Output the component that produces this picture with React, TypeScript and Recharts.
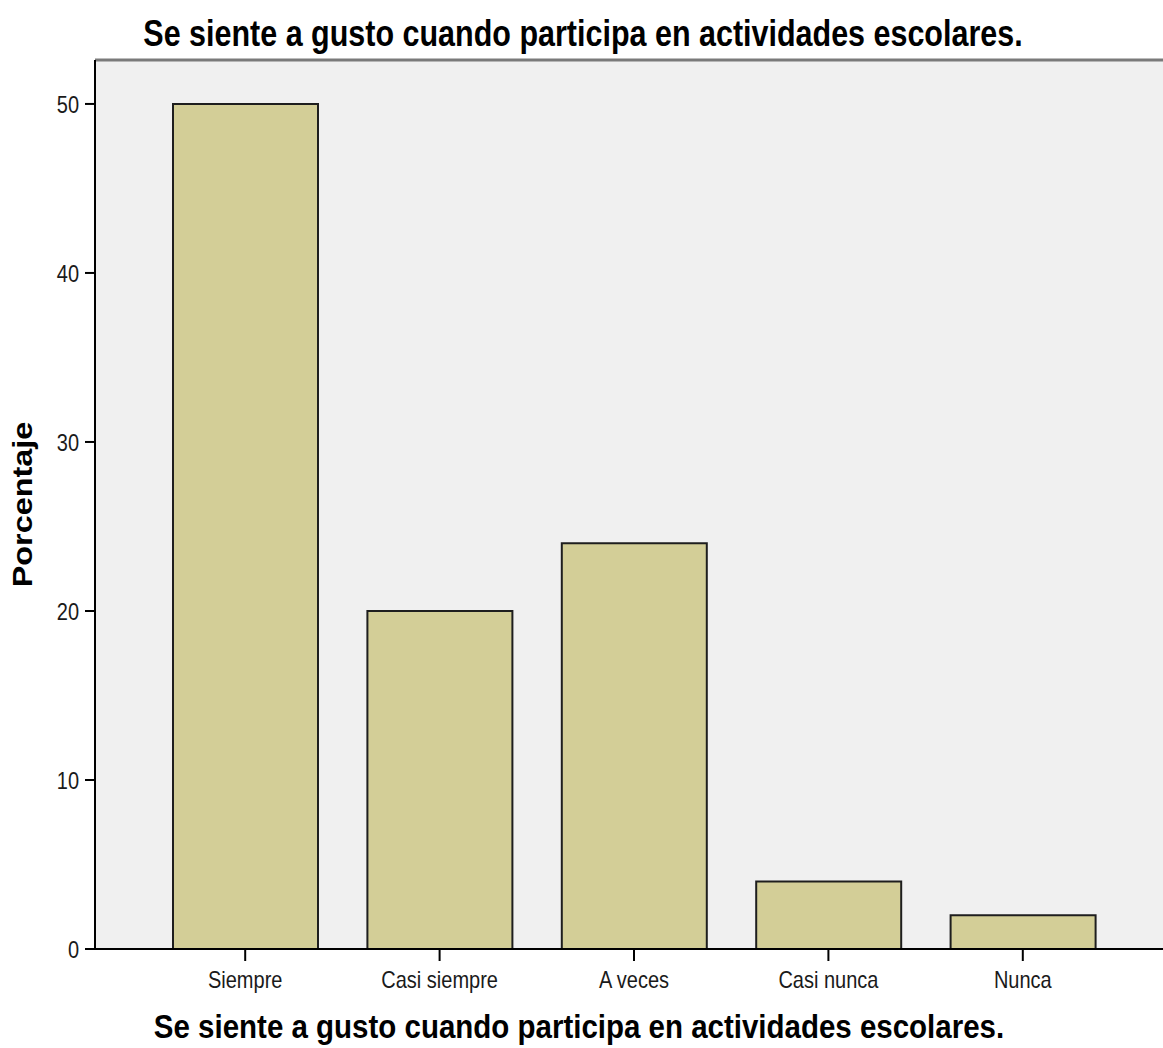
import React from "react";
import {
  BarChart,
  Bar,
  XAxis,
  YAxis,
  CartesianGrid,
  ReferenceLine,
  Label,
} from "recharts";

const categories = ["Siempre", "Casi siempre", "A veces", "Casi nunca", "Nunca"];
const percentages = [50, 20, 24, 4, 2];
const yTicks = [0, 10, 20, 30, 40, 50];
const Y_MAX = 52.6;
const TITLE = "Se siente a gusto cuando participa en actividades escolares.";
const Y_TITLE = "Porcentaje";

const chartData = categories.map((name, i) => ({ name, value: percentages[i] }));

const FONT = "'Liberation Sans', Arial, Helvetica, sans-serif";
const STRETCH = 1.2;

const YTick = (props: any) => {
  const { x, y, payload } = props;
  return (
    <text
      transform={`translate(${x},${y}) scale(1,${STRETCH})`}
      textAnchor="end"
      dy="0.36em"
      fontFamily={FONT}
      fontSize={20}
      fill="#1a1a1a"
    >
      {payload.value}
    </text>
  );
};

const XTick = (props: any) => {
  const { x, y, payload } = props;
  return (
    <text
      transform={`translate(${x},${y}) scale(1,${STRETCH})`}
      textAnchor="middle"
      dy="0.71em"
      fontFamily={FONT}
      fontSize={20}
      fill="#1a1a1a"
    >
      {payload.value}
    </text>
  );
};

const TopTitle = (props: any) => {
  const vb = props.viewBox || { x: 95, y: 60, width: 1068 };
  const cx = vb.x + vb.width / 2 - 46;
  return (
    <text
      transform={`translate(${cx},${vb.y - 14}) scale(1,${STRETCH})`}
      textAnchor="middle"
      fontFamily={FONT}
      fontWeight="bold"
      fontSize={30.5}
      fill="#000"
    >
      {TITLE}
    </text>
  );
};

const BottomTitle = (props: any) => {
  const vb = props.viewBox || { x: 95, y: 949, width: 1068, height: 99 };
  const cx = vb.x + vb.width / 2 - 50;
  return (
    <text
      transform={`translate(${cx},${vb.y + 89}) scale(1,1.15)`}
      textAnchor="middle"
      fontFamily={FONT}
      fontWeight="bold"
      fontSize={29.5}
      fill="#000"
    >
      {TITLE}
    </text>
  );
};

const LeftTitle = (props: any) => {
  const vb = props.viewBox || { x: 0, y: 60, width: 95, height: 889 };
  const cy = vb.y + vb.height / 2;
  return (
    <text
      transform={`translate(32,${cy}) scale(1,${STRETCH}) rotate(-90)`}
      textAnchor="middle"
      fontFamily={FONT}
      fontWeight="bold"
      fontSize={27}
      fill="#000"
    >
      {Y_TITLE}
    </text>
  );
};

export default function App() {
  return (
    <div style={{ position: "absolute", left: 0, top: 0, background: "#fff" }}>
      <BarChart
        width={1163}
        height={1048}
        data={chartData}
        margin={{ top: 60, right: 0, bottom: 0, left: 0 }}
      >
        <CartesianGrid fill="#f0f0f0" horizontal={false} vertical={false} />
        <XAxis
          dataKey="name"
          height={99}
          padding={{ left: 53, right: 43 }}
          axisLine={{ stroke: "#000", strokeWidth: 2 }}
          tickLine={{ stroke: "#000", strokeWidth: 2 }}
          tickSize={12}
          tickMargin={10}
          tick={<XTick />}
          interval={0}
        >
          <Label content={<BottomTitle />} />
        </XAxis>
        <YAxis
          width={95}
          domain={[0, Y_MAX]}
          ticks={yTicks}
          allowDataOverflow
          axisLine={{ stroke: "#000", strokeWidth: 2 }}
          tickLine={{ stroke: "#000", strokeWidth: 2 }}
          tickSize={10}
          tickMargin={6}
          tick={<YTick />}
        >
          <Label content={<LeftTitle />} />
        </YAxis>
        <ReferenceLine
          y={Y_MAX}
          stroke="#7a7a7a"
          strokeWidth={3}
          label={<TopTitle />}
        />
        <Bar
          dataKey="value"
          fill="#d3ce97"
          stroke="#1e1e1e"
          strokeWidth={2}
          barSize={145}
          isAnimationActive={false}
        />
      </BarChart>
    </div>
  );
}
